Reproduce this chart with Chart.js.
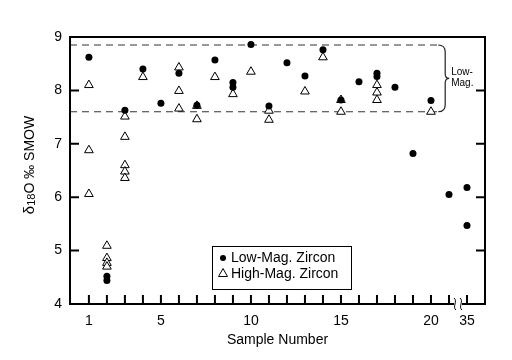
<!DOCTYPE html>
<html>
<head>
<meta charset="utf-8">
<script src="https://cdn.jsdelivr.net/npm/chart.js@4.4.0/dist/chart.umd.min.js"></script>
<style>
  html, body { margin: 0; padding: 0; background: #fff; }
</style>
</head>
<body>
<canvas id="myChart" width="512" height="360"></canvas>
<script>
// sample numbers and d18O values
var lowMagSample = [1, 2, 2, 3, 4, 5, 6, 7, 8, 9, 9, 10, 11, 12, 13, 14, 15, 16, 17, 17, 18, 19, 20, 21, 35, 35];
var lowMagValue  = [8.62, 4.52, 4.44, 7.63, 8.40, 7.76, 8.32, 7.72, 8.57, 8.15, 8.06, 8.86, 7.71, 8.52, 8.27, 8.76, 7.82, 8.16, 8.32, 8.26, 8.06, 6.82, 7.81, 6.05, 6.18, 5.47];

var highMagSample = [1, 1, 1, 2, 2, 2, 2, 3, 3, 3, 3, 3, 4, 6, 6, 6, 7, 7, 8, 9, 10, 11, 11, 13, 14, 15, 15, 17, 17, 17, 20];
var highMagValue  = [8.10, 6.88, 6.06, 5.09, 4.86, 4.77, 4.70, 7.51, 7.13, 6.60, 6.48, 6.36, 8.25, 8.43, 7.99, 7.66, 7.71, 7.46, 8.25, 7.93, 8.35, 7.62, 7.45, 7.98, 8.62, 7.82, 7.60, 8.10, 7.96, 7.82, 7.60];

// low-mag band limits (dashed lines) and where they stop
var bandTop = 8.85;
var bandBottom = 7.6;
var bandEnd = 20.4;

var xTickSamples = [1, 5, 10, 15, 20, 35];
var yTicks = [4, 5, 6, 7, 8, 9];

// sample 35 sits just after 21 on a broken axis
function samplePos(s) { return s === 35 ? 22 : s; }
function sampleLabel(p) { return p === 22 ? '35' : String(p); }

function toPoints(xs, ys) {
    return xs.map(function (s, i) { return { x: samplePos(s), y: ys[i] }; });
}

var FONT = '"Liberation Sans", Arial, Helvetica, sans-serif';

var framePlugin = {
    id: 'frame',
    afterDraw: function (chart) {
        var c = chart.ctx;
        var a = chart.chartArea;
        var xs = chart.scales.x, ys = chart.scales.y;
        c.save();
        c.strokeStyle = '#000';
        c.lineWidth = 2;
        c.strokeRect(a.left, a.top, a.right - a.left, a.bottom - a.top);

        // inward ticks
        c.beginPath();
        for (var s = 1; s <= 21; s++) {
            var px = xs.getPixelForValue(s);
            c.moveTo(px, a.bottom); c.lineTo(px, a.bottom - 9);
        }
        var p35 = xs.getPixelForValue(22);
        c.moveTo(p35, a.bottom); c.lineTo(p35, a.bottom - 9);
        yTicks.forEach(function (v) {
            var py = ys.getPixelForValue(v);
            c.moveTo(a.left, py); c.lineTo(a.left + 9, py);
            c.moveTo(a.right, py); c.lineTo(a.right - 9, py);
        });
        c.stroke();

        // axis break between 21 and 35
        var bx = (xs.getPixelForValue(21) + p35) / 2;
        c.fillStyle = '#fff';
        c.fillRect(bx - 4, a.bottom - 2, 8, 4);
        c.lineWidth = 1;
        [bx - 3, bx + 3].forEach(function (x0) {
            c.beginPath();
            c.moveTo(x0 - 1, a.bottom - 6);
            c.bezierCurveTo(x0 + 3, a.bottom - 3, x0 - 3, a.bottom + 3, x0 + 1, a.bottom + 6);
            c.stroke();
        });

        // brace for the low-mag band
        var yt = ys.getPixelForValue(bandTop), yb = ys.getPixelForValue(bandBottom);
        var ym = (yt + yb) / 2;
        var x0 = xs.getPixelForValue(bandEnd);
        c.strokeStyle = '#222';
        c.lineWidth = 1.2;
        c.beginPath();
        c.moveTo(x0, yt);
        c.quadraticCurveTo(x0 + 7, yt, x0 + 7, yt + 7);
        c.lineTo(x0 + 7, ym - 5);
        c.quadraticCurveTo(x0 + 7, ym, x0 + 11, ym);
        c.quadraticCurveTo(x0 + 7, ym, x0 + 7, ym + 5);
        c.lineTo(x0 + 7, yb - 7);
        c.quadraticCurveTo(x0 + 7, yb, x0, yb);
        c.stroke();
        c.fillStyle = '#000';
        c.font = '10px ' + FONT;
        c.textAlign = 'left';
        c.textBaseline = 'middle';
        c.fillText('Low-', x0 + 13, ym - 6);
        c.fillText('Mag.', x0 + 13, ym + 5);

        // axis titles
        c.font = '14px ' + FONT;
        c.textAlign = 'center';
        c.textBaseline = 'middle';
        c.fillText('Sample Number', (a.left + a.right) / 2, 340);

        c.translate(30, 165);
        c.rotate(-Math.PI / 2);
        var parts = [['\u03B4', 15, 0], ['18', 11, 2], ['O \u2030 SMOW', 14, 0]];
        var total = 0;
        parts.forEach(function (p) { c.font = p[1] + 'px ' + FONT; total += c.measureText(p[0]).width; });
        var tx = -total / 2;
        c.textAlign = 'left';
        parts.forEach(function (p) {
            c.font = p[1] + 'px ' + FONT;
            c.fillText(p[0], tx, p[2]);
            tx += c.measureText(p[0]).width;
        });
        c.restore();

        // legend box
        c.save();
        c.strokeStyle = '#000';
        c.lineWidth = 1;
        c.strokeRect(212.5, 246.5, 139, 43);
        c.fillStyle = '#000';
        c.beginPath();
        c.arc(223, 258, 3, 0, Math.PI * 2);
        c.fill();
        c.beginPath();
        c.moveTo(223, 268.5); c.lineTo(227.5, 276.5); c.lineTo(218.5, 276.5); c.closePath();
        c.stroke();
        c.font = '14px ' + FONT;
        c.textAlign = 'left';
        c.textBaseline = 'middle';
        c.fillText('Low-Mag. Zircon', 231, 258);
        c.fillText('High-Mag. Zircon', 231, 274);
        c.restore();
    }
};

var ctx = document.getElementById('myChart').getContext('2d');
var myChart = new Chart(ctx, {
    type: 'scatter',
    data: {
        datasets: [{
            label: 'Low-Mag. Zircon',
            data: toPoints(lowMagSample, lowMagValue),
            pointStyle: 'circle',
            pointRadius: 3.5,
            backgroundColor: '#000',
            borderColor: '#000',
            borderWidth: 0,
            order: 0
        }, {
            label: 'High-Mag. Zircon',
            data: toPoints(highMagSample, highMagValue),
            pointStyle: 'triangle',
            pointRadius: 5,
            backgroundColor: '#fff',
            borderColor: '#000',
            borderWidth: 1,
            order: 1
        }, {
            label: 'upper',
            type: 'line',
            data: [{ x: -0.05, y: bandTop }, { x: bandEnd, y: bandTop }],
            borderColor: '#333',
            borderWidth: 1.2,
            borderDash: [7, 5],
            pointRadius: 0,
            order: 2
        }, {
            label: 'lower',
            type: 'line',
            data: [{ x: -0.05, y: bandBottom }, { x: bandEnd, y: bandBottom }],
            borderColor: '#333',
            borderWidth: 1.2,
            borderDash: [7, 5],
            pointRadius: 0,
            order: 2
        }]
    },
    options: {
        responsive: false,
        animation: false,
        layout: { padding: { top: 37, right: 27, left: 0, bottom: 0 } },
        plugins: {
            legend: { display: false },
            tooltip: { enabled: false }
        },
        scales: {
            x: {
                type: 'linear',
                min: -0.05,
                max: 23,
                grid: { display: false, drawTicks: false },
                border: { display: false },
                afterFit: function (scale) { scale.height = 56; },
                afterBuildTicks: function (scale) {
                    scale.ticks = xTickSamples.map(function (s) { return { value: samplePos(s) }; });
                },
                ticks: {
                    padding: 9,
                    color: '#000',
                    font: { family: FONT, size: 14 },
                    autoSkip: false,
                    maxRotation: 0,
                    callback: function (v) { return sampleLabel(v); }
                }
            },
            y: {
                min: 4,
                max: 9,
                grid: { display: false, drawTicks: false },
                border: { display: false },
                afterFit: function (scale) { scale.width = 70; },
                afterBuildTicks: function (scale) {
                    scale.ticks = yTicks.map(function (v) { return { value: v }; });
                },
                ticks: {
                    padding: 8,
                    color: '#000',
                    font: { family: FONT, size: 14 }
                }
            }
        }
    },
    plugins: [framePlugin]
});
</script>
</body>
</html>
